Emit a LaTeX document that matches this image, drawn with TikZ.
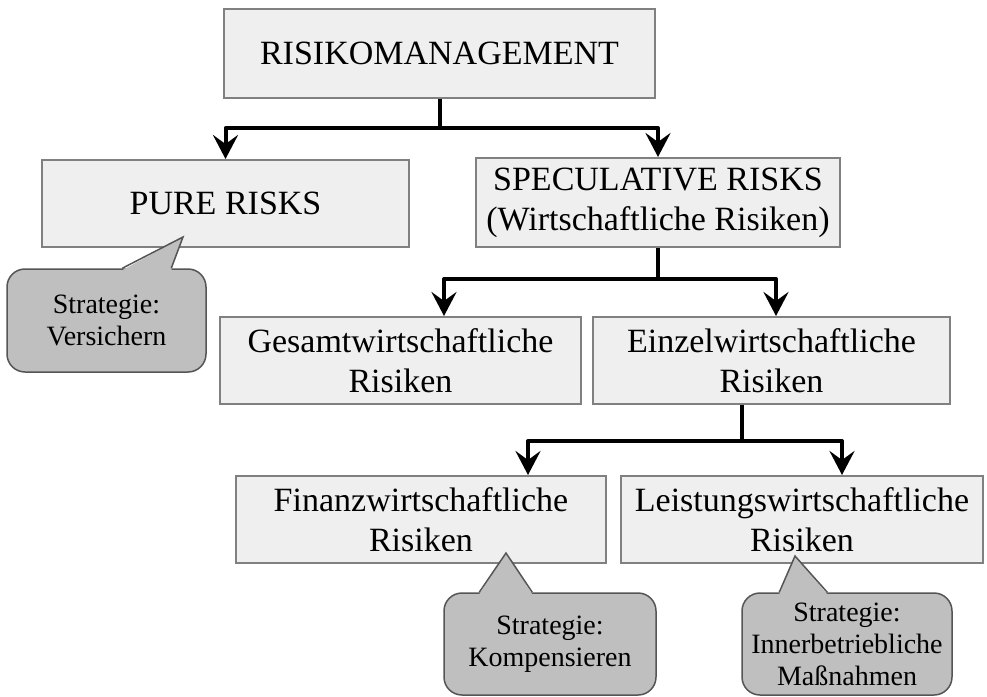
\documentclass[tikz,border=0pt]{standalone}
\usepackage{fontspec}
\setmainfont{Liberation Serif}
\usetikzlibrary{arrows.meta}
\definecolor{boxfill}{HTML}{EFEFEF}
\definecolor{boxline}{HTML}{808080}
\definecolor{callfill}{HTML}{BFBFBF}
\definecolor{callline}{HTML}{555555}
\tikzset{
  riskbox/.style={draw=boxline, fill=boxfill, line width=2pt, inner sep=0pt,
    align=center, font=\fontsize{34}{40}\selectfont},
  callbox/.style={draw=callline, fill=callfill, line width=1.5pt, inner sep=0pt,
    rounded corners=18pt, align=center, font=\fontsize{28}{32}\selectfont},
  conn/.style={line width=4pt, black, line join=round,
    -{Stealth[length=24pt, width=25pt, inset=9pt]}},
}
\begin{document}
\begin{tikzpicture}[x=1pt, y=-1pt]
  \useasboundingbox (0,0) rectangle (987,696);
  % boxes
  \node[riskbox, minimum width=431pt, minimum height=89pt] (risk) at (439.5,53.5) {RISIKOMANAGEMENT};
  \node[riskbox, minimum width=367pt, minimum height=87pt] (pure) at (225.5,203.5) {PURE RISKS};
  \node[riskbox, minimum width=364pt, minimum height=89pt] (spec) at (658,202.5) {SPECULATIVE RISKS\\(Wirtschaftliche Risiken)};
  \node[riskbox, minimum width=361pt, minimum height=87pt] (gesamt) at (400.5,360.5) {Gesamtwirtschaftliche\\Risiken};
  \node[riskbox, minimum width=357pt, minimum height=87pt] (einzel) at (771.5,360.5) {Einzelwirtschaftliche\\Risiken};
  \node[riskbox, minimum width=370pt, minimum height=87pt] (finanz) at (421,519.5) {Finanzwirtschaftliche\\Risiken};
  \node[riskbox, minimum width=362pt, minimum height=87pt] (leist) at (802,519.5) {Leistungswirtschaftliche\\Risiken};
  % connectors
  \draw[conn] (risk.south) -- ++(0,29) -| (pure.north);
  \draw[conn] (risk.south) -- ++(0,29) -| (spec.north);
  \draw[conn] (spec.south) -- ++(0,31) -| ([xshift=43.5pt]gesamt.north);
  \draw[conn] (spec.south) -- ++(0,31) -| ([xshift=4.5pt]einzel.north);
  \draw[conn] ([xshift=-29.5pt]einzel.south) -- ++(0,36) -| ([xshift=107pt]finanz.north);
  \draw[conn] ([xshift=-29.5pt]einzel.south) -- ++(0,36) -| ([xshift=40pt]leist.north);
  % callouts
  \node[callbox, minimum width=199pt, minimum height=103pt] (vers) at (106.5,320.5)
    {\fontsize{28}{26}\selectfont Strategie:\\Versichern};
  \coordinate (verstip) at (183,237);
  \fill[callfill] ([xshift=116pt,yshift=-2pt]vers.north west) -- (verstip) -- ([xshift=165pt,yshift=-2pt]vers.north west) -- cycle;
  \draw[callline, line width=1.5pt] ([xshift=116pt]vers.north west) -- (verstip) -- ([xshift=165pt]vers.north west);

  \node[callbox, minimum width=212pt, minimum height=102pt] (komp) at (550,644) {Strategie:\\Kompensieren};
  \coordinate (komptip) at (506,553);
  \fill[callfill] ([xshift=36pt,yshift=-2pt]komp.north west) -- (komptip) -- ([xshift=89pt,yshift=-2pt]komp.north west) -- cycle;
  \draw[callline, line width=1.5pt] ([xshift=36pt]komp.north west) -- (komptip) -- ([xshift=89pt]komp.north west);

  \node[callbox, minimum width=210pt, minimum height=102pt] (inner) at (847,644) {Strategie:\\Innerbetriebliche\\Maßnahmen};
  \coordinate (innertip) at (795,556);
  \fill[callfill] ([xshift=38pt,yshift=-2pt]inner.north west) -- (innertip) -- ([xshift=86pt,yshift=-2pt]inner.north west) -- cycle;
  \draw[callline, line width=1.5pt] ([xshift=38pt]inner.north west) -- (innertip) -- ([xshift=86pt]inner.north west);
\end{tikzpicture}
\end{document}
